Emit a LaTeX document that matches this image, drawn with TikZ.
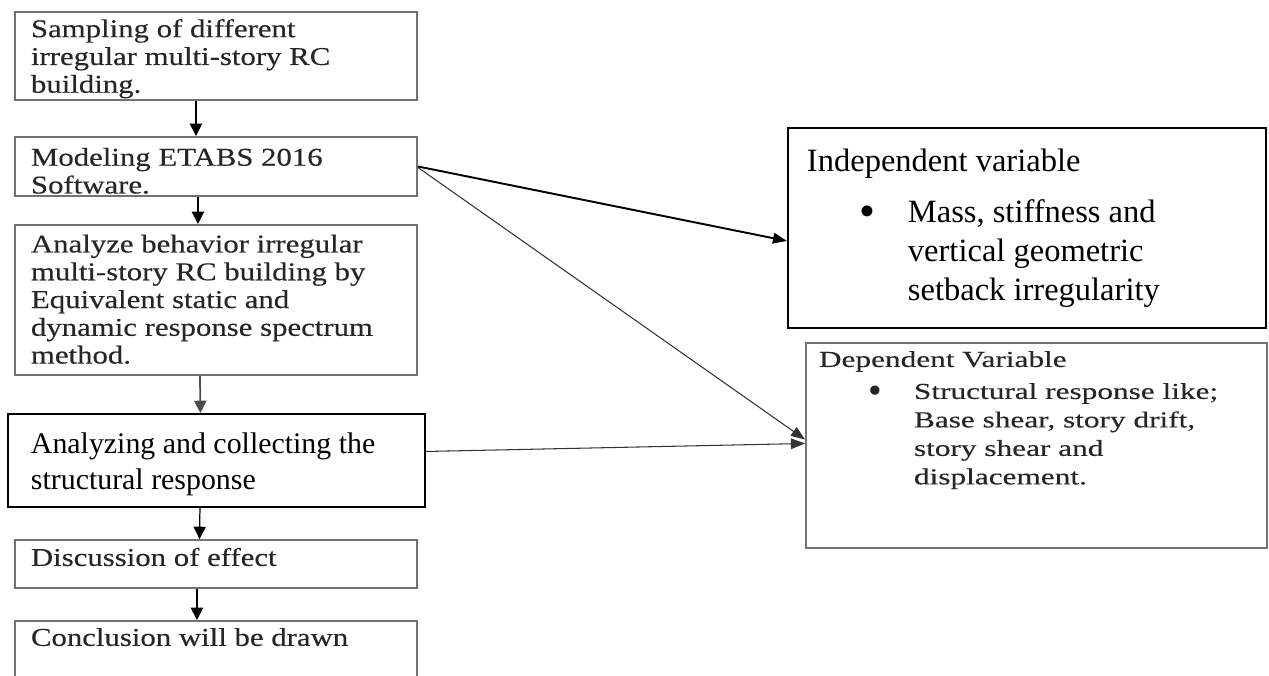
\documentclass[tikz,border=0pt]{standalone}
\usepackage{fontspec}
\setmainfont{Liberation Serif}
\newfontfamily\widefont[FakeStretch=1.2,FakeBold=0.3]{Liberation Serif}
\newfontfamily\depfont[FakeStretch=1.37,FakeBold=0.3]{Liberation Serif}
\usetikzlibrary{arrows.meta}

\newcommand{\steptext}[4]{\parbox[c][#2][t]{#1}{\raggedright\vspace*{#3}\strut#4}}
\newcommand{\bigbullet}[2]{\raisebox{#2}{\scalebox{#1}{\rmfamily\textbullet}}}

\tikzset{
  stepbox/.style={draw=black!55, line width=1.1pt, inner ysep=0pt, inner xsep=0.32cm,
    anchor=north west, font=\widefont\fontsize{14.6}{15.8}\selectfont, text=black!85},
  mainbox/.style={stepbox, draw=black, text=black},
  flow/.style={-{Triangle[length=7pt,width=7pt]}, line width=0.7pt},
  link/.style={-{Triangle[length=8pt,width=6pt]}, line width=0.6pt, draw=black!80}
}

\begin{document}
\begin{tikzpicture}
    \useasboundingbox (0,0) rectangle (25.38,-13.5);
    \clip (0,0) rectangle (25.38,-13.5);

    % left column
    \node[stepbox] (samp) at (0.28,-0.22) {\steptext{7.4cm}{1.76cm}{3.3pt}{Sampling of different\\ irregular multi-story RC\\ building.}};
    \node[stepbox] (model) at (0.28,-2.72) {\steptext{7.4cm}{1.18cm}{5.3pt}{Modeling ETABS 2016\\ Software.}};
    \node[stepbox] (analyze) at (0.28,-4.48) {\steptext{7.4cm}{3.0cm}{4.6pt}{Analyze behavior irregular\\ multi-story RC building by\\ Equivalent static and\\ dynamic response spectrum\\ method.}};
    \node[mainbox, inner xsep=0.46cm, font=\fontsize{17}{20}\selectfont] (collect) at (0.14,-8.26) {\steptext{7.42cm}{1.86cm}{8.7pt}{Analyzing and collecting the\\ structural response}};
    \node[stepbox] (discuss) at (0.28,-10.78) {\steptext{7.4cm}{0.96cm}{3.7pt}{Discussion of effect}};
    \node[stepbox] (concl) at (0.28,-12.4) {\steptext{7.4cm}{1.8cm}{3.1pt}{Conclusion will be drawn}};

    % right column
    \node[mainbox, inner xsep=0.38cm, font=\fontsize{18.5}{22.2}\selectfont] (indep) at (15.74,-2.54) {\steptext{8.8cm}{4.0cm}{9pt}{Independent variable\par\vspace{7pt}\hspace*{1.05cm}\makebox[0.97cm][l]{\bigbullet{1.4}{-2.5pt}}\parbox[t]{6.5cm}{Mass, stiffness and\\ vertical geometric\\ setback irregularity}}};
    \node[stepbox, inner xsep=0.26cm, font=\depfont\fontsize{13}{16.2}\selectfont] (dep) at (16.1,-6.84) {\steptext{8.7cm}{4.1cm}{2.3pt}{Dependent Variable\par\vspace{2pt}\hspace*{1.0cm}\makebox[0.9cm][l]{\bigbullet{1.7}{-2.5pt}}\parbox[t]{6.5cm}{Structural response like;\\ Base shear, story drift,\\ story shear and\\ displacement.}}};

    \draw[flow] ([xshift=-0.4cm]samp.south) -- ([xshift=-0.4cm]model.north);
    \draw[flow] ([xshift=-0.36cm]model.south) -- ([xshift=-0.36cm]analyze.north);
    \draw[flow, line width=1pt, draw=black!70] ([xshift=-0.32cm]analyze.south) -- ([xshift=-0.32cm]collect.north);
    \draw[flow] ([xshift=-0.33cm]collect.south) -- ([xshift=-0.33cm]discuss.north);
    \draw[flow] ([xshift=-0.38cm]discuss.south) -- ([xshift=-0.38cm]concl.north);

    \draw[link, line width=1.1pt, draw=black] (model.east) -- ([yshift=-0.26cm]indep.west);
    \draw[link] ([yshift=-0.02cm]model.east) -- ([yshift=0.12cm]dep.west);
    \draw[link] ([yshift=0.18cm]collect.east) -- ([yshift=0.04cm]dep.west);
\end{tikzpicture}
\end{document}
